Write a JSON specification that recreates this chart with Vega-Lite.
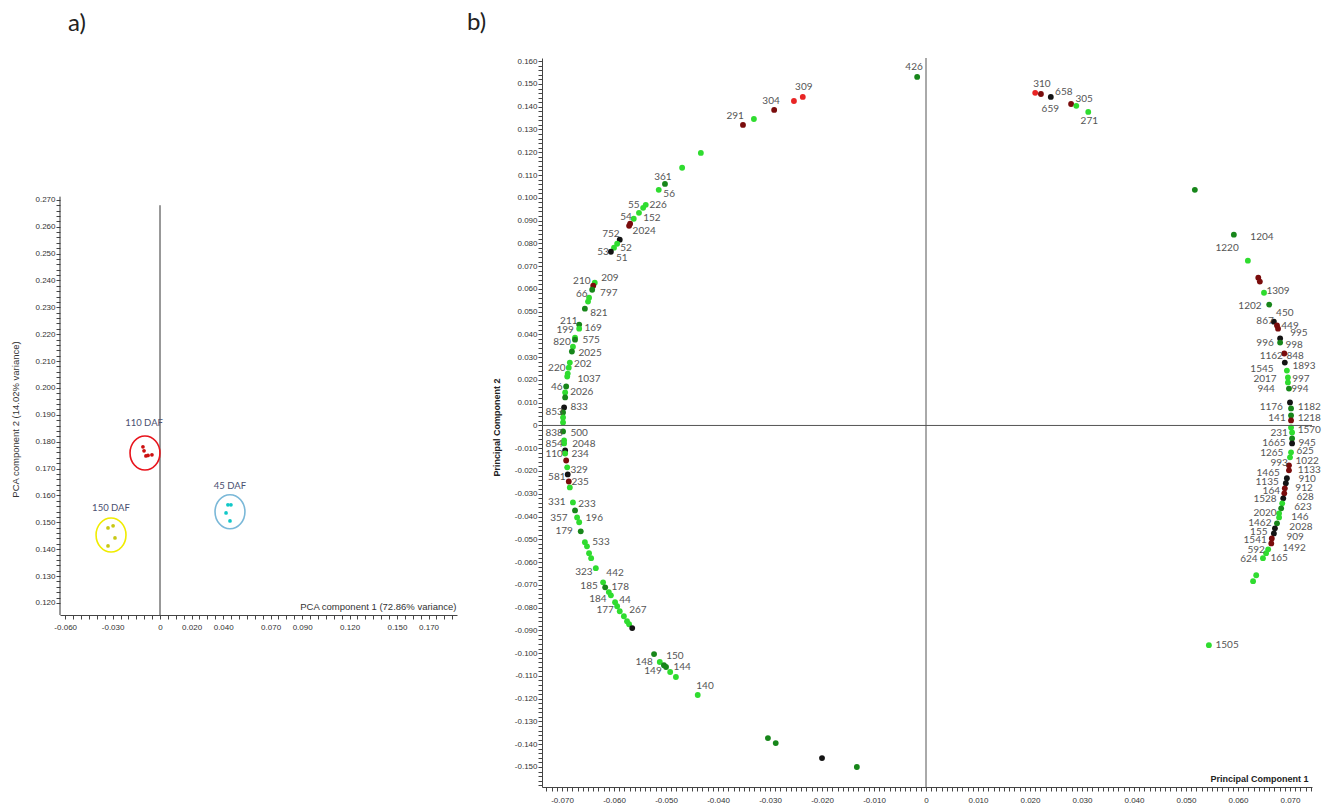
{
"$schema": "https://vega.github.io/schema/vega-lite/v6.json",
"background": "white",
"padding": {"left": 10, "top": 11, "right": 5, "bottom": 0},
"spacing": 10,
"resolve": {"scale": {"color": "independent", "stroke": "independent"}},
"config": {
 "view": {"stroke": null},
 "axis": {"grid": false, "labelFont": "Liberation Sans", "titleFont": "Liberation Sans", "domainColor": "#444", "tickColor": "#444", "labelColor": "#333", "labelFontSize": 8, "labelOverlap": false, "labelFlush": false, "labelBound": false}
},
"datasets": {
 "a_pts": [
  {"x": -0.0108, "y": 0.1781, "g": "110"}, {"x": -0.0101, "y": 0.1766, "g": "110"}, {"x": -0.0089, "y": 0.1747, "g": "110"}, {"x": -0.0051, "y": 0.1751, "g": "110"}, {"x": -0.0076, "y": 0.1749, "g": "110"},
  {"x": 0.0430, "y": 0.1565, "g": "45"}, {"x": 0.0449, "y": 0.1565, "g": "45"}, {"x": 0.0418, "y": 0.1535, "g": "45"}, {"x": 0.0443, "y": 0.1505, "g": "45"},
  {"x": -0.0329, "y": 0.1479, "g": "150"}, {"x": -0.0297, "y": 0.1487, "g": "150"}, {"x": -0.0285, "y": 0.1442, "g": "150"}, {"x": -0.0329, "y": 0.1412, "g": "150"}
 ],
 "a_groups": [
  {"x": -0.0095, "y": 0.1758, "g": "110"},
  {"x": 0.0443, "y": 0.1539, "g": "45"},
  {"x": -0.0310, "y": 0.1453, "g": "150"}
 ],
 "a_lab": [
  {"x": -0.0101, "y": 0.1870, "t": "110 DAF"},
  {"x": 0.0443, "y": 0.1636, "t": "45 DAF"},
  {"x": -0.0310, "y": 0.1554, "t": "150 DAF"}
 ],
 "b_pts": [
  {"x": -0.0017, "y": 0.1531, "c": "D"}, {"x": -0.0237, "y": 0.1443, "c": "E"}, {"x": -0.0254, "y": 0.1425, "c": "E"}, {"x": -0.0292, "y": 0.1386, "c": "R"},
  {"x": -0.0331, "y": 0.1346, "c": "G"}, {"x": -0.0352, "y": 0.1320, "c": "R"}, {"x": -0.0433, "y": 0.1197, "c": "G"}, {"x": -0.0469, "y": 0.1132, "c": "G"},
  {"x": -0.0502, "y": 0.1061, "c": "D"}, {"x": -0.0514, "y": 0.1035, "c": "G"}, {"x": -0.0539, "y": 0.0969, "c": "G"}, {"x": -0.0544, "y": 0.0956, "c": "G"},
  {"x": -0.0552, "y": 0.0934, "c": "G"}, {"x": -0.0562, "y": 0.0908, "c": "G"}, {"x": -0.0569, "y": 0.0886, "c": "R"}, {"x": -0.0571, "y": 0.0877, "c": "R"},
  {"x": -0.0589, "y": 0.0816, "c": "K"}, {"x": -0.0594, "y": 0.0798, "c": "G"}, {"x": -0.0600, "y": 0.0781, "c": "G"}, {"x": -0.0606, "y": 0.0763, "c": "K"},
  {"x": -0.0637, "y": 0.0627, "c": "G"}, {"x": -0.0640, "y": 0.0614, "c": "R"}, {"x": -0.0642, "y": 0.0596, "c": "D"}, {"x": -0.0648, "y": 0.0561, "c": "G"},
  {"x": -0.0650, "y": 0.0544, "c": "G"}, {"x": -0.0656, "y": 0.0513, "c": "D"}, {"x": -0.0667, "y": 0.0443, "c": "D"}, {"x": -0.0667, "y": 0.0425, "c": "G"},
  {"x": -0.0675, "y": 0.0386, "c": "G"}, {"x": -0.0675, "y": 0.0377, "c": "D"}, {"x": -0.0679, "y": 0.0346, "c": "G"}, {"x": -0.0681, "y": 0.0325, "c": "D"},
  {"x": -0.0685, "y": 0.0276, "c": "G"}, {"x": -0.0687, "y": 0.0254, "c": "G"}, {"x": -0.0689, "y": 0.0228, "c": "G"}, {"x": -0.0690, "y": 0.0215, "c": "G"},
  {"x": -0.0692, "y": 0.0171, "c": "D"}, {"x": -0.0694, "y": 0.0145, "c": "G"}, {"x": -0.0694, "y": 0.0123, "c": "D"}, {"x": -0.0696, "y": 0.0079, "c": "K"},
  {"x": -0.0698, "y": 0.0057, "c": "D"}, {"x": -0.0698, "y": 0.0035, "c": "G"}, {"x": -0.0698, "y": 0.0013, "c": "G"}, {"x": -0.0698, "y": -0.0026, "c": "D"},
  {"x": -0.0696, "y": -0.0066, "c": "G"}, {"x": -0.0696, "y": -0.0079, "c": "G"}, {"x": -0.0694, "y": -0.0110, "c": "K"}, {"x": -0.0694, "y": -0.0123, "c": "G"},
  {"x": -0.0692, "y": -0.0154, "c": "R"}, {"x": -0.0690, "y": -0.0184, "c": "G"}, {"x": -0.0689, "y": -0.0215, "c": "K"}, {"x": -0.0687, "y": -0.0246, "c": "R"},
  {"x": -0.0685, "y": -0.0272, "c": "G"}, {"x": -0.0679, "y": -0.0338, "c": "G"}, {"x": -0.0675, "y": -0.0373, "c": "D"}, {"x": -0.0671, "y": -0.0404, "c": "G"},
  {"x": -0.0667, "y": -0.0425, "c": "G"}, {"x": -0.0664, "y": -0.0465, "c": "D"}, {"x": -0.0656, "y": -0.0513, "c": "G"}, {"x": -0.0652, "y": -0.0531, "c": "G"},
  {"x": -0.0648, "y": -0.0561, "c": "G"}, {"x": -0.0644, "y": -0.0583, "c": "G"}, {"x": -0.0635, "y": -0.0627, "c": "G"}, {"x": -0.0621, "y": -0.0689, "c": "G"},
  {"x": -0.0617, "y": -0.0711, "c": "D"}, {"x": -0.0610, "y": -0.0732, "c": "G"}, {"x": -0.0606, "y": -0.0746, "c": "G"}, {"x": -0.0598, "y": -0.0776, "c": "G"},
  {"x": -0.0594, "y": -0.0794, "c": "G"}, {"x": -0.0589, "y": -0.0816, "c": "G"}, {"x": -0.0581, "y": -0.0838, "c": "G"}, {"x": -0.0575, "y": -0.0860, "c": "G"},
  {"x": -0.0571, "y": -0.0873, "c": "G"}, {"x": -0.0565, "y": -0.0890, "c": "K"}, {"x": -0.0523, "y": -0.1004, "c": "D"}, {"x": -0.0512, "y": -0.1039, "c": "G"},
  {"x": -0.0504, "y": -0.1053, "c": "D"}, {"x": -0.0500, "y": -0.1061, "c": "D"}, {"x": -0.0492, "y": -0.1083, "c": "G"}, {"x": -0.0481, "y": -0.1105, "c": "G"},
  {"x": -0.0439, "y": -0.1184, "c": "G"}, {"x": -0.0304, "y": -0.1373, "c": "D"}, {"x": -0.0289, "y": -0.1395, "c": "D"}, {"x": -0.0200, "y": -0.1461, "c": "K"},
  {"x": -0.0133, "y": -0.1500, "c": "D"},
  {"x": 0.0210, "y": 0.1461, "c": "E"}, {"x": 0.0221, "y": 0.1456, "c": "R"}, {"x": 0.0240, "y": 0.1443, "c": "K"}, {"x": 0.0279, "y": 0.1412, "c": "R"},
  {"x": 0.0289, "y": 0.1404, "c": "G"}, {"x": 0.0312, "y": 0.1377, "c": "G"},
  {"x": 0.0517, "y": 0.1035, "c": "D"}, {"x": 0.0592, "y": 0.0838, "c": "D"}, {"x": 0.0619, "y": 0.0724, "c": "G"}, {"x": 0.0639, "y": 0.0649, "c": "R"},
  {"x": 0.0642, "y": 0.0632, "c": "R"}, {"x": 0.0650, "y": 0.0583, "c": "G"}, {"x": 0.0660, "y": 0.0531, "c": "D"}, {"x": 0.0669, "y": 0.0456, "c": "K"},
  {"x": 0.0675, "y": 0.0439, "c": "R"}, {"x": 0.0677, "y": 0.0425, "c": "R"}, {"x": 0.0681, "y": 0.0382, "c": "K"}, {"x": 0.0681, "y": 0.0364, "c": "D"},
  {"x": 0.0689, "y": 0.0316, "c": "R"}, {"x": 0.0690, "y": 0.0276, "c": "K"}, {"x": 0.0694, "y": 0.0241, "c": "G"}, {"x": 0.0696, "y": 0.0211, "c": "G"},
  {"x": 0.0696, "y": 0.0189, "c": "G"}, {"x": 0.0698, "y": 0.0162, "c": "D"}, {"x": 0.0700, "y": 0.0101, "c": "K"}, {"x": 0.0702, "y": 0.0075, "c": "D"},
  {"x": 0.0702, "y": 0.0044, "c": "D"}, {"x": 0.0702, "y": 0.0022, "c": "R"}, {"x": 0.0702, "y": -0.0009, "c": "G"}, {"x": 0.0704, "y": -0.0031, "c": "G"},
  {"x": 0.0704, "y": -0.0057, "c": "D"}, {"x": 0.0704, "y": -0.0079, "c": "K"}, {"x": 0.0702, "y": -0.0118, "c": "G"}, {"x": 0.0700, "y": -0.0140, "c": "G"},
  {"x": 0.0698, "y": -0.0175, "c": "R"}, {"x": 0.0698, "y": -0.0197, "c": "R"}, {"x": 0.0694, "y": -0.0232, "c": "K"}, {"x": 0.0692, "y": -0.0254, "c": "K"},
  {"x": 0.0690, "y": -0.0276, "c": "R"}, {"x": 0.0689, "y": -0.0298, "c": "R"}, {"x": 0.0687, "y": -0.0320, "c": "K"}, {"x": 0.0685, "y": -0.0342, "c": "G"},
  {"x": 0.0683, "y": -0.0364, "c": "D"}, {"x": 0.0679, "y": -0.0386, "c": "G"}, {"x": 0.0679, "y": -0.0404, "c": "G"}, {"x": 0.0675, "y": -0.0430, "c": "D"},
  {"x": 0.0671, "y": -0.0452, "c": "K"}, {"x": 0.0669, "y": -0.0474, "c": "K"}, {"x": 0.0665, "y": -0.0496, "c": "R"}, {"x": 0.0664, "y": -0.0518, "c": "R"},
  {"x": 0.0658, "y": -0.0544, "c": "G"}, {"x": 0.0654, "y": -0.0561, "c": "G"}, {"x": 0.0648, "y": -0.0583, "c": "G"}, {"x": 0.0635, "y": -0.0658, "c": "G"},
  {"x": 0.0629, "y": -0.0684, "c": "G"}, {"x": 0.0544, "y": -0.0965, "c": "G"}
 ],
 "b_lab": [
  {"x": -0.0023, "y": 0.1575, "t": "426"}, {"x": -0.0235, "y": 0.1487, "t": "309"}, {"x": -0.0298, "y": 0.1425, "t": "304"}, {"x": -0.0367, "y": 0.1360, "t": "291"},
  {"x": -0.0506, "y": 0.1092, "t": "361"}, {"x": -0.0494, "y": 0.1018, "t": "56"}, {"x": -0.0562, "y": 0.0969, "t": "55"}, {"x": -0.0515, "y": 0.0969, "t": "226"},
  {"x": -0.0577, "y": 0.0917, "t": "54"}, {"x": -0.0527, "y": 0.0912, "t": "152"}, {"x": -0.0542, "y": 0.0855, "t": "2024"}, {"x": -0.0606, "y": 0.0842, "t": "752"},
  {"x": -0.0577, "y": 0.0781, "t": "52"}, {"x": -0.0621, "y": 0.0763, "t": "53"}, {"x": -0.0585, "y": 0.0737, "t": "51"}, {"x": -0.0662, "y": 0.0636, "t": "210"},
  {"x": -0.0608, "y": 0.0649, "t": "209"}, {"x": -0.0662, "y": 0.0579, "t": "66"}, {"x": -0.0610, "y": 0.0583, "t": "797"}, {"x": -0.0629, "y": 0.0496, "t": "821"},
  {"x": -0.0687, "y": 0.0461, "t": "211"}, {"x": -0.0640, "y": 0.0430, "t": "169"}, {"x": -0.0694, "y": 0.0421, "t": "199"}, {"x": -0.0644, "y": 0.0377, "t": "575"},
  {"x": -0.0700, "y": 0.0368, "t": "820"}, {"x": -0.0646, "y": 0.0320, "t": "2025"}, {"x": -0.0710, "y": 0.0254, "t": "220"}, {"x": -0.0660, "y": 0.0272, "t": "202"},
  {"x": -0.0648, "y": 0.0206, "t": "1037"}, {"x": -0.0710, "y": 0.0167, "t": "46"}, {"x": -0.0662, "y": 0.0149, "t": "2026"}, {"x": -0.0715, "y": 0.0057, "t": "853"},
  {"x": -0.0667, "y": 0.0079, "t": "833"}, {"x": -0.0715, "y": -0.0031, "t": "838"}, {"x": -0.0667, "y": -0.0035, "t": "500"}, {"x": -0.0715, "y": -0.0083, "t": "854"},
  {"x": -0.0658, "y": -0.0083, "t": "2048"}, {"x": -0.0715, "y": -0.0127, "t": "110"}, {"x": -0.0665, "y": -0.0127, "t": "234"}, {"x": -0.0667, "y": -0.0197, "t": "329"},
  {"x": -0.0710, "y": -0.0228, "t": "581"}, {"x": -0.0665, "y": -0.0250, "t": "235"}, {"x": -0.0710, "y": -0.0338, "t": "331"}, {"x": -0.0652, "y": -0.0346, "t": "233"},
  {"x": -0.0706, "y": -0.0408, "t": "357"}, {"x": -0.0638, "y": -0.0408, "t": "196"}, {"x": -0.0696, "y": -0.0465, "t": "179"}, {"x": -0.0625, "y": -0.0513, "t": "533"},
  {"x": -0.0658, "y": -0.0645, "t": "323"}, {"x": -0.0598, "y": -0.0649, "t": "442"}, {"x": -0.0648, "y": -0.0706, "t": "185"}, {"x": -0.0588, "y": -0.0711, "t": "178"},
  {"x": -0.0631, "y": -0.0763, "t": "184"}, {"x": -0.0579, "y": -0.0768, "t": "44"}, {"x": -0.0617, "y": -0.0811, "t": "177"}, {"x": -0.0554, "y": -0.0811, "t": "267"},
  {"x": -0.0542, "y": -0.1039, "t": "148"}, {"x": -0.0483, "y": -0.1013, "t": "150"}, {"x": -0.0525, "y": -0.1079, "t": "149"}, {"x": -0.0469, "y": -0.1061, "t": "144"},
  {"x": -0.0425, "y": -0.1145, "t": "140"},
  {"x": 0.0223, "y": 0.1500, "t": "310"}, {"x": 0.0265, "y": 0.1465, "t": "658"}, {"x": 0.0239, "y": 0.1390, "t": "659"}, {"x": 0.0304, "y": 0.1434, "t": "305"},
  {"x": 0.0314, "y": 0.1338, "t": "271"},
  {"x": 0.0646, "y": 0.0829, "t": "1204"}, {"x": 0.0579, "y": 0.0781, "t": "1220"}, {"x": 0.0677, "y": 0.0592, "t": "1309"}, {"x": 0.0623, "y": 0.0526, "t": "1202"},
  {"x": 0.0690, "y": 0.0496, "t": "450"}, {"x": 0.0652, "y": 0.0461, "t": "867"}, {"x": 0.0700, "y": 0.0439, "t": "449"}, {"x": 0.0717, "y": 0.0404, "t": "995"},
  {"x": 0.0652, "y": 0.0364, "t": "996"}, {"x": 0.0708, "y": 0.0355, "t": "998"}, {"x": 0.0664, "y": 0.0303, "t": "1162"}, {"x": 0.0710, "y": 0.0307, "t": "848"},
  {"x": 0.0727, "y": 0.0263, "t": "1893"}, {"x": 0.0646, "y": 0.0246, "t": "1545"}, {"x": 0.0652, "y": 0.0202, "t": "2017"}, {"x": 0.0721, "y": 0.0206, "t": "997"},
  {"x": 0.0654, "y": 0.0158, "t": "944"}, {"x": 0.0719, "y": 0.0162, "t": "994"}, {"x": 0.0664, "y": 0.0083, "t": "1176"}, {"x": 0.0737, "y": 0.0083, "t": "1182"},
  {"x": 0.0675, "y": 0.0031, "t": "141"}, {"x": 0.0737, "y": 0.0031, "t": "1218"}, {"x": 0.0737, "y": -0.0022, "t": "1570"}, {"x": 0.0679, "y": -0.0035, "t": "231"},
  {"x": 0.0733, "y": -0.0075, "t": "945"}, {"x": 0.0669, "y": -0.0079, "t": "1665"}, {"x": 0.0729, "y": -0.0114, "t": "625"}, {"x": 0.0665, "y": -0.0123, "t": "1265"},
  {"x": 0.0733, "y": -0.0158, "t": "1022"}, {"x": 0.0679, "y": -0.0167, "t": "993"}, {"x": 0.0737, "y": -0.0197, "t": "1133"}, {"x": 0.0658, "y": -0.0211, "t": "1465"},
  {"x": 0.0733, "y": -0.0237, "t": "910"}, {"x": 0.0656, "y": -0.0250, "t": "1135"}, {"x": 0.0727, "y": -0.0276, "t": "912"}, {"x": 0.0664, "y": -0.0289, "t": "164"},
  {"x": 0.0729, "y": -0.0316, "t": "628"}, {"x": 0.0652, "y": -0.0325, "t": "1528"}, {"x": 0.0725, "y": -0.0360, "t": "623"}, {"x": 0.0652, "y": -0.0386, "t": "2020"},
  {"x": 0.0719, "y": -0.0404, "t": "146"}, {"x": 0.0642, "y": -0.0430, "t": "1462"}, {"x": 0.0721, "y": -0.0447, "t": "2028"}, {"x": 0.0640, "y": -0.0469, "t": "155"},
  {"x": 0.0710, "y": -0.0491, "t": "909"}, {"x": 0.0633, "y": -0.0504, "t": "1541"}, {"x": 0.0708, "y": -0.0539, "t": "1492"}, {"x": 0.0635, "y": -0.0548, "t": "592"},
  {"x": 0.0621, "y": -0.0588, "t": "624"}, {"x": 0.0679, "y": -0.0583, "t": "165"}, {"x": 0.0579, "y": -0.0965, "t": "1505"}
 ]
},
"hconcat": [
 {
  "width": 397,
  "height": 557,
  "title": {"text": "a)", "anchor": "start", "frame": "group", "font": "Lato", "fontSize": 24, "fontWeight": "normal", "color": "#222", "dx": 8, "offset": 22},
  "encoding": {
   "x": {"field": "x", "type": "quantitative", "scale": {"domain": [-0.0633, 0.188], "nice": false, "zero": false},
    "axis": {"title": "PCA component 1 (72.86% variance)", "titleX": 396, "titleY": -4, "titleAlign": "right", "titleBaseline": "bottom", "titleFontSize": 9.5, "titleFontWeight": "normal", "titleColor": "#333", "tickCount": 50, "tickSize": 4, "labelPadding": 4, "labelOverlap": false,
     "labelExpr": "indexof([-60,-30,0,20,40,70,90,120,150,170], round(datum.value*1000)) >= 0 ? (round(datum.value*1000) === 0 ? '0' : (datum.value < 0 ? '-' : '') + format(abs(datum.value), '.3f')) : ''"}},
   "y": {"field": "y", "type": "quantitative", "scale": {"domain": [0.1155, 0.3228], "nice": false, "zero": false},
    "axis": {"title": "PCA component 2 (14.02% variance)", "titleX": -45, "titleY": 361, "titleAngle": -90, "titleAlign": "center", "titleBaseline": "middle", "titleFontSize": 9.5, "titleFontWeight": "normal", "titleColor": "#333", "domain": false, "tickSize": 4, "labelPadding": 1, "labelOverlap": false,
     "values": [0.12,0.122,0.124,0.126,0.128,0.13,0.132,0.134,0.136,0.138,0.14,0.142,0.144,0.146,0.148,0.15,0.152,0.154,0.156,0.158,0.16,0.162,0.164,0.166,0.168,0.17,0.172,0.174,0.176,0.178,0.18,0.182,0.184,0.186,0.188,0.19,0.192,0.194,0.196,0.198,0.2,0.202,0.204,0.206,0.208,0.21,0.212,0.214,0.216,0.218,0.22,0.222,0.224,0.226,0.228,0.23,0.232,0.234,0.236,0.238,0.24,0.242,0.244,0.246,0.248,0.25,0.252,0.254,0.256,0.258,0.26,0.262,0.264,0.266,0.268,0.27],
     "labelExpr": "round(datum.value*1000) % 10 === 0 ? format(datum.value, '.3f') : ''"}}
  },
  "layer": [
   {
    "data": {"name": "a_pts"},
    "mark": {"type": "circle", "size": 14, "opacity": 1},
    "encoding": {
     "color": {"field": "g", "type": "nominal", "scale": {"domain": ["110", "45", "150"], "range": ["#cc1010", "#10c8c8", "#c8c814"]}, "legend": null}
    }
   },
   {
    "data": {"values": [{"x": -0.0633, "y": 0.1155, "y2": 0.2712}, {"x": 0, "y": 0.1155, "y2": 0.268}]},
    "mark": {"type": "rule", "color": "#333", "strokeWidth": 1},
    "encoding": {
     "y2": {"field": "y2"}
    }
   },
   {
    "data": {"name": "a_groups"},
    "mark": {"type": "point", "shape": "M -0.88 0 A 0.88 1 0 1 0 0.88 0 A 0.88 1 0 1 0 -0.88 0 Z", "size": 1156, "filled": false, "strokeWidth": 1.6, "opacity": 1},
    "encoding": {
     "stroke": {"field": "g", "type": "nominal", "scale": {"domain": ["110", "45", "150"], "range": ["#e8141c", "#7ab8d8", "#f0ec00"]}, "legend": null}
    }
   },
   {
    "data": {"name": "a_lab"},
    "mark": {"type": "text", "font": "Lato", "fontSize": 9.5, "color": "#4a5070"},
    "encoding": {
     "text": {"field": "t"}
    }
   }
  ]
 },
 {
  "width": 770,
  "height": 729,
  "title": {"text": "b)", "anchor": "start", "frame": "group", "font": "Lato", "fontSize": 24, "fontWeight": "normal", "color": "#222", "dx": -75, "offset": 22},
  "layer": [
   {
    "data": {"name": "b_pts"},
    "mark": {"type": "circle", "size": 34, "opacity": 1},
    "encoding": {
     "x": {"field": "x", "type": "quantitative", "scale": {"domain": [-0.07385, 0.07423], "nice": false, "zero": false},
      "axis": {"title": "Principal Component 1", "titleX": 766, "titleY": -4, "titleAlign": "right", "titleBaseline": "bottom", "titleFontSize": 9, "titleFontWeight": "bold", "titleColor": "#222", "tickCount": 150, "tickSize": 4, "labelPadding": 5, "labelOverlap": false,
       "labelExpr": "round(datum.value*1000) % 10 === 0 ? (round(datum.value*1000) === 0 ? '0' : (datum.value < 0 ? '-' : '') + format(abs(datum.value), '.3f')) : ''"}},
     "y": {"field": "y", "type": "quantitative", "scale": {"domain": [-0.1588, 0.1614], "nice": false, "zero": false},
      "axis": {"title": "Principal Component 2", "titleX": -46, "titleY": 369, "titleAngle": -90, "titleAlign": "center", "titleBaseline": "middle", "titleFontSize": 9, "titleFontWeight": "bold", "titleColor": "#222", "tickCount": 160, "tickSize": 4, "labelPadding": 1, "labelOverlap": false,
       "labelExpr": "round(datum.value*1000) % 10 === 0 ? (round(datum.value*1000) === 0 ? '0' : (datum.value < 0 ? '-' : '') + format(abs(datum.value), '.3f')) : ''"}},
     "color": {"field": "c", "type": "nominal", "scale": {"domain": ["G", "D", "K", "R", "E"], "range": ["#2fdc2f", "#17861a", "#141414", "#7a0c0c", "#e82424"]}, "legend": null}
    }
   },
   {
    "data": {"values": [{}]},
    "mark": {"type": "rule", "color": "#555", "strokeWidth": 1},
    "encoding": {
     "x": {"datum": -0.07385, "type": "quantitative"},
     "x2": {"datum": 0.07423},
     "y": {"datum": 0, "type": "quantitative"}
    }
   },
   {
    "data": {"values": [{}]},
    "mark": {"type": "rule", "color": "#555", "strokeWidth": 1},
    "encoding": {
     "x": {"datum": 0, "type": "quantitative"},
     "y": {"datum": -0.1588, "type": "quantitative"},
     "y2": {"datum": 0.1614}
    }
   },
   {
    "data": {"name": "b_lab"},
    "mark": {"type": "text", "font": "Lato", "fontSize": 10, "color": "#555"},
    "encoding": {
     "x": {"field": "x", "type": "quantitative"},
     "y": {"field": "y", "type": "quantitative"},
     "text": {"field": "t"}
    }
   }
  ]
 }
]
}
